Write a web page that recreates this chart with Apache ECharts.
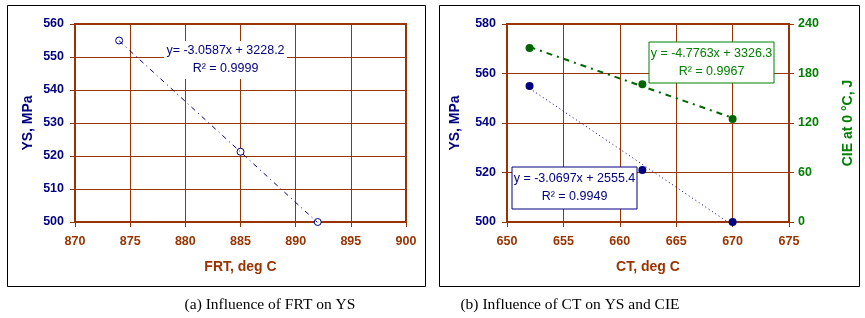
<!DOCTYPE html>
<html>
<head>
<meta charset="utf-8">
<script src="https://cdn.jsdelivr.net/npm/echarts@6/dist/echarts.min.js"></script>
<style>
html,body{margin:0;padding:0;background:#fff;}
#chart{width:865px;height:318px;}
</style>
</head>
<body>
<div id="chart"></div>
<script>
// (a) FRT vs YS
var frtX = [874, 885, 892];
var frtYS = [555, 521.3, 500];
var frtTrend = [[874, 554.9], [892, 499.8]];
var frtEq = ["y= -3.0587x + 3228.2", "R\u00b2 = 0.9999"];

// (b) CT vs YS and CIE
var ctX = [652, 662, 670];
var ctYS = [555, 521, 500];
var ctCIE = [211, 167, 125];
var ctYSTrend = [[652, 554.0], [670, 498.7]];
var ctCIETrend = [[652, 212.2], [670, 126.2]];
var ysEq = ["y = -3.0697x + 2555.4", "R\u00b2 = 0.9949"];
var cieEq = ["y = -4.7763x + 3326.3", "R\u00b2 = 0.9967"];

var captions = ["(a) Influence of FRT on YS", "(b) Influence of CT on YS and CIE"];

var navy = "#000080", brown = "#993300", green = "#008000";
var font = "Liberation Sans";

function pairs(xs, ys){
	var out = [];
	for(var i=0;i<xs.length;i++){ out.push([xs[i], ys[i]]); }
	return out;
}

function valAxis(opt){
	var ax = {
		type:'value',
		min:opt.min, max:opt.max, interval:opt.interval,
		gridIndex:opt.grid,
		name:opt.name,
		nameLocation:'middle',
		nameGap:opt.gap,
		nameTextStyle:{color:opt.color, fontWeight:'bold', fontSize:14, fontFamily:font},
		axisLine:{show:true, lineStyle:{color:brown, width:2}},
		axisTick:{show:true, length:5, lineStyle:{color:brown, width:1}},
		axisLabel:{color:opt.color, fontWeight:'bold', fontSize:12.5, fontFamily:font, margin:opt.margin},
		splitLine:{show:opt.split !== false, lineStyle:{color:brown, width:1}}
	};
	if(opt.position) ax.position = opt.position;
	if(opt.rotate !== undefined) ax.nameRotate = opt.rotate;
	return ax;
}

function eqBox(x, y, w, h, lines, color, border){
	var cx = x + w/2;
	var items = [{
		type:'rect', shape:{x:x, y:y, width:w, height:h},
		style:{fill:'#fff', stroke:border ? color : null, lineWidth:1}, z:100
	}];
	for(var i=0;i<lines.length;i++){
		items.push({
			type:'text', x:cx, y:y + h/2 + (i === 0 ? -9 : 9), z:101,
			style:{text:lines[i], fill:color, font:'12.5px "' + font + '"', textAlign:'center', textVerticalAlign:'middle'}
		});
	}
	return items;
}

var chart = echarts.init(document.getElementById("chart"));

var graphics = [
	{type:'rect', shape:{x:7.5, y:5.5, width:418, height:281}, style:{fill:null, stroke:'#000', lineWidth:1}, z:0},
	{type:'rect', shape:{x:439.5, y:5.5, width:420, height:281}, style:{fill:null, stroke:'#000', lineWidth:1}, z:0},
	{type:'text', x:270, y:305, style:{text:captions[0], fill:'#000', font:'15.5px "Liberation Serif"', textAlign:'center', textVerticalAlign:'middle'}},
	{type:'text', x:570, y:305, style:{text:captions[1], fill:'#000', font:'15.5px "Liberation Serif"', textAlign:'center', textVerticalAlign:'middle'}}
];
graphics = graphics.concat(eqBox(164, 41, 123, 38, frtEq, navy, false));
graphics = graphics.concat(eqBox(512, 167, 125, 42, ysEq, navy, true));
graphics = graphics.concat(eqBox(649, 42, 125, 41, cieEq, green, true));

option = {
	animation:false,
	backgroundColor:'#fff',
	grid:[
		{left:75, top:24, width:331, height:198, show:true, borderColor:brown, borderWidth:2, backgroundColor:'#fff'},
		{left:507, top:24, width:282, height:198, show:true, borderColor:brown, borderWidth:2, backgroundColor:'#fff'}
	],
	xAxis:[
		valAxis({grid:0, min:870, max:900, interval:5, name:'FRT, deg C', gap:38, color:brown, margin:13}),
		valAxis({grid:1, min:650, max:675, interval:5, name:'CT, deg C', gap:38, color:brown, margin:13})
	],
	yAxis:[
		valAxis({grid:0, min:500, max:560, interval:10, name:'YS, MPa', gap:40, color:navy, margin:11}),
		valAxis({grid:1, min:500, max:580, interval:20, name:'YS, MPa', gap:45, color:navy, margin:11}),
		valAxis({grid:1, min:0, max:240, interval:60, name:'CIE at 0 \u00b0C, J', gap:52, color:green, margin:9, position:'right', split:false, rotate:90})
	],
	graphic:graphics,
	series:[
		{
			name:'FRT trend', type:'line', xAxisIndex:0, yAxisIndex:0,
			data:frtTrend, symbol:'none', silent:true,
			lineStyle:{color:navy, width:1, type:[5,4,1,4]}
		},
		{
			name:'YS (FRT)', type:'scatter', xAxisIndex:0, yAxisIndex:0,
			data:pairs(frtX, frtYS), symbol:'circle', symbolSize:7,
			itemStyle:{color:'#fff', borderColor:navy, borderWidth:1, opacity:1}
		},
		{
			name:'YS trend', type:'line', xAxisIndex:1, yAxisIndex:1,
			data:ctYSTrend, symbol:'none', silent:true,
			lineStyle:{color:navy, width:1, type:[1,3]}
		},
		{
			name:'CIE trend', type:'line', xAxisIndex:1, yAxisIndex:2,
			data:ctCIETrend, symbol:'none', silent:true,
			lineStyle:{color:'#006600', width:2, type:[6,5,2,5]}
		},
		{
			name:'YS (CT)', type:'scatter', xAxisIndex:1, yAxisIndex:1,
			data:pairs(ctX, ctYS), symbol:'circle', symbolSize:8,
			itemStyle:{color:navy, opacity:1}
		},
		{
			name:'CIE (CT)', type:'scatter', xAxisIndex:1, yAxisIndex:2,
			data:pairs(ctX, ctCIE), symbol:'circle', symbolSize:8,
			itemStyle:{color:'#006600', opacity:1}
		}
	]
};
chart.setOption(option);
</script>
</body>
</html>
